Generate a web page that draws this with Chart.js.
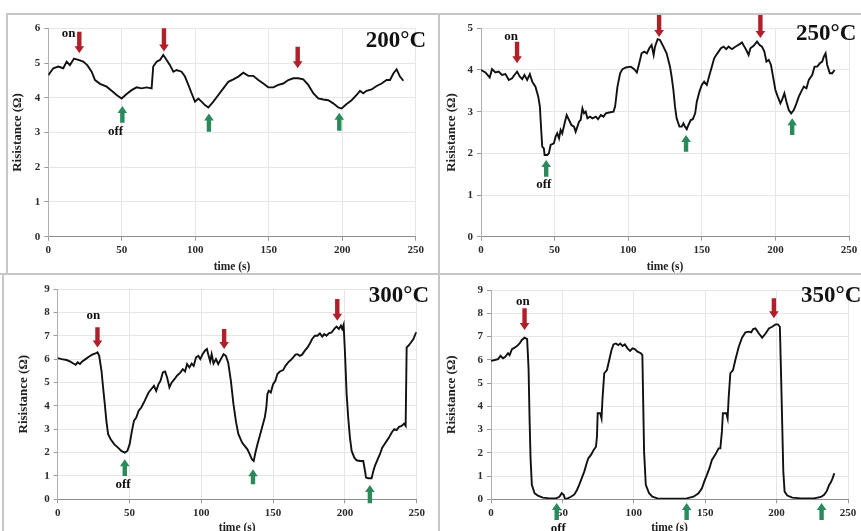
<!DOCTYPE html>
<html>
<head>
<meta charset="utf-8">
<title>Resistance vs time</title>
<script src="https://cdn.jsdelivr.net/npm/chart.js@4.4.0/dist/chart.umd.min.js"></script>
<style>
    html, body { margin: 0; padding: 0; background: #fff; }
    body { position: relative; width: 861px; height: 531px; overflow: hidden; }
    canvas { position: absolute; }
    .rule { position: absolute; background: #c6c6c6; }
</style>
</head>
<body>
<div class="rule" style="left:6px; top:13px; width:855px; height:2px"></div>
<div class="rule" style="left:6px; top:13px; width:2px; height:262px"></div>
<div class="rule" style="left:438px; top:13px; width:2px; height:518px"></div>
<div class="rule" style="left:0; top:273px; width:861px; height:2px"></div>
<div class="rule" style="left:2px; top:273px; width:2px; height:258px"></div>
<canvas id="c200"></canvas>
<canvas id="c250"></canvas>
<canvas id="c300"></canvas>
<canvas id="c350"></canvas>
<script>
// ---- data: [time (s), resistance] ----
const data200 = [[0,4.65],[3.4,4.85],[6.8,4.9],[10.2,4.85],[12.5,5.04],[14.7,4.94],[17.5,5.13],[20.4,5.09],[23.8,5.04],[26.5,4.94],[29.5,4.75],[31.8,4.51],[35.2,4.40],[39.7,4.32],[43.1,4.20],[46.5,4.08],[49.9,3.98],[53.3,4.11],[56.7,4.22],[60.1,4.30],[63.5,4.27],[66.9,4.30],[70.3,4.27],[71.4,4.9],[73.7,5.04],[76.0,5.09],[78.2,5.23],[80.5,5.09],[82.8,4.94],[85.1,4.75],[87.3,4.80],[90.7,4.75],[93.0,4.61],[95.3,4.37],[97.5,4.13],[99.8,3.89],[102.1,3.98],[104.3,3.89],[106.6,3.79],[108.9,3.72],[112.3,3.89],[115.7,4.08],[119.1,4.27],[122.5,4.46],[125.9,4.53],[129.3,4.61],[132.7,4.72],[136.1,4.63],[139.5,4.63],[142.9,4.51],[146.3,4.41],[149.7,4.30],[153.1,4.30],[156.5,4.37],[159.9,4.41],[163.3,4.51],[166.7,4.56],[170.1,4.56],[173.5,4.53],[176.9,4.37],[180.3,4.13],[183.7,3.98],[187.1,3.95],[190.5,3.93],[193.9,3.84],[197.3,3.72],[199.6,3.69],[203.0,3.82],[206.4,3.93],[209.8,4.08],[212.1,4.20],[214.3,4.13],[216.6,4.20],[220.0,4.24],[223.4,4.34],[226.8,4.41],[230.2,4.51],[232.5,4.51],[234.8,4.70],[237.0,4.82],[239.3,4.61],[241.6,4.49]];

const data250 = [[0,4.0],[3,3.94],[5.9,3.82],[7.5,4.02],[9.8,3.94],[12,3.96],[14.3,3.88],[16.6,3.90],[18.9,3.76],[21.1,3.80],[22.7,3.88],[24.5,3.96],[26.4,3.84],[28,3.78],[29.5,3.88],[31.4,3.76],[33.2,3.90],[34.8,3.72],[37,3.60],[38.9,3.36],[40,3.12],[40.9,2.56],[41.6,2.16],[42.7,2.12],[43.2,1.96],[45,1.96],[46.1,2.0],[47.3,2.2],[49.5,2.24],[50.7,2.4],[51.8,2.48],[53,2.36],[54.1,2.56],[55.2,2.48],[56.8,2.72],[58.2,2.92],[59.8,2.8],[61.4,2.68],[63.2,2.64],[64.3,2.52],[65.5,2.64],[66.6,2.76],[67.7,2.8],[68.9,3.08],[70,2.96],[71.1,3.0],[72.3,2.84],[74.1,2.88],[75.7,2.84],[78,2.88],[79.5,2.82],[81.4,2.92],[83.2,2.88],[84.8,2.96],[87,2.98],[90,3.0],[91.1,3.12],[92.7,3.6],[94.5,3.92],[96.1,4.02],[98.4,4.06],[101.8,4.08],[104.1,4.02],[105.9,3.94],[107.5,4.16],[109.1,4.4],[110.9,4.44],[112.7,4.4],[114.3,4.52],[115.9,4.6],[117.3,4.36],[118.2,4.56],[120,4.74],[121.6,4.72],[123.9,4.56],[126.1,4.4],[128.4,4.08],[129.5,3.84],[130.7,3.52],[131.8,3.12],[132.9,2.84],[134.8,2.64],[136.4,2.64],[137.5,2.72],[138.6,2.64],[139.8,2.58],[140.9,2.68],[142.5,2.8],[143.9,2.82],[145.5,2.96],[146.6,3.24],[148.4,3.48],[150,3.64],[151.6,3.72],[153.4,3.64],[155.2,3.88],[156.8,4.08],[158.4,4.28],[159.8,4.36],[161.4,4.44],[163,4.52],[164.8,4.56],[166.6,4.5],[168.2,4.56],[170.5,4.5],[172,4.54],[173.9,4.58],[175.7,4.62],[177.3,4.66],[178.9,4.56],[180.2,4.48],[181.8,4.36],[183,4.52],[185.2,4.58],[187.5,4.68],[189.3,4.6],[190.9,4.56],[192.5,4.44],[193.9,4.2],[195.5,4.24],[197,4.12],[198.4,3.84],[200,3.52],[201.6,3.36],[203.4,3.2],[204.5,3.28],[206.1,3.44],[207.5,3.24],[209.1,3.04],[210.7,2.96],[212.5,3.04],[214.3,3.2],[215.9,3.36],[217.5,3.48],[219.3,3.6],[221.1,3.56],[222.7,3.76],[225,3.88],[226.6,4.08],[228.4,4.08],[230.2,4.16],[231.8,4.2],[232.9,4.32],[234.1,4.4],[235.2,4.12],[237,3.92],[238.6,3.92],[240.2,4.0]];

const data300 = [[0,6.04],[2.8,6.0],[6.2,5.96],[8.5,5.9],[10.9,5.81],[12.5,5.76],[13.9,5.86],[15.5,5.79],[17.1,5.9],[19.4,6.0],[21.7,6.1],[24,6.19],[26.3,6.24],[27.7,6.29],[28.9,6.14],[30.5,5.5],[31.6,4.79],[32.8,4.07],[33.9,3.36],[35.1,2.79],[36.9,2.57],[39.3,2.36],[42,2.21],[44.3,2.07],[46.7,2.0],[48.5,2.07],[50.1,2.36],[51.7,2.93],[53.1,3.36],[54.7,3.5],[56.4,3.79],[58.2,3.93],[60,4.14],[61.7,4.36],[63.3,4.57],[65.1,4.71],[67,4.86],[68.6,4.64],[70.2,4.93],[71.6,5.07],[73.2,5.43],[74.8,5.47],[76.2,5.21],[77.8,4.79],[79.4,5.0],[81.3,5.14],[83.1,5.29],[85.5,5.43],[87.1,5.57],[88.7,5.47],[90.1,5.79],[91.7,5.64],[93.3,5.81],[94.7,5.71],[96.3,6.07],[97.9,6.14],[99.3,6.0],[100.9,6.21],[102.5,6.36],[103.9,6.43],[104.8,6.21],[106.2,5.9],[107.2,6.21],[108.5,5.81],[110.2,6.0],[111.8,5.79],[113.6,6.0],[115.5,6.21],[117.1,6.14],[118.7,5.86],[120.6,5.07],[122.4,4.07],[124.2,3.3],[125.8,2.8],[128.4,2.43],[130.2,2.29],[132.1,2.14],[133.7,1.93],[135.3,1.71],[136.5,1.64],[137.7,2.0],[139.1,2.36],[140.7,2.71],[142.3,3.07],[144.2,3.5],[145.3,3.93],[146,4.5],[147,4.64],[148.4,4.57],[150,4.93],[151.6,5.07],[153,5.36],[154.7,5.47],[157,5.53],[158.6,5.71],[160.5,5.86],[162.3,5.96],[164,6.07],[165.6,6.19],[167,6.21],[168.6,6.14],[170.2,6.19],[172.1,6.36],[174,6.5],[175.6,6.67],[177.2,6.86],[179.1,7.0],[180.9,7.0],[182.6,7.1],[184.2,6.96],[185.6,7.07],[187.2,7.0],[188.8,7.1],[190.7,7.14],[192.6,7.29],[194.2,7.39],[195.8,7.29],[197.2,7.43],[198.1,7.29],[199.1,7.47],[200,6.36],[201.2,4.5],[202.3,3.5],[203.5,2.64],[204.7,2.07],[206.5,1.79],[208.1,1.67],[210.5,1.64],[212.8,1.64],[214,1.21],[214.7,0.93],[216.3,0.9],[218.6,0.9],[219.8,1.21],[220.9,1.43],[222.8,1.71],[224.4,1.93],[226,2.21],[227.9,2.39],[229.1,2.5],[230.7,2.64],[232.6,2.86],[234.4,3.0],[236,2.96],[237.7,3.1],[239.5,3.14],[241.2,3.24],[242.3,3.14],[243,6.5],[244.2,6.57],[246,6.71],[247.7,6.86],[249.3,7.1],[250,7.15]];

const data350 = [[0,5.95],[2.6,5.99],[4.9,6.03],[6.7,6.17],[8.4,6.06],[10,6.13],[11.9,6.28],[13,6.2],[14.7,6.46],[16.5,6.52],[18.4,6.6],[20,6.7],[21.6,6.85],[23.5,6.95],[25.3,6.89],[26.3,5.63],[27,3.48],[27.7,1.76],[28.6,0.62],[30.5,0.26],[32.8,0.16],[36.3,0.07],[40.9,0.04],[45.6,0.04],[47.9,0.11],[49.5,0.26],[50.9,0.19],[51.9,0.01],[53.7,0.04],[56,0.11],[58.4,0.21],[60.2,0.4],[61.9,0.64],[63.5,0.9],[65.3,1.19],[67,1.55],[68.1,1.76],[70,1.91],[71.9,2.12],[73.5,2.26],[74.2,2.69],[74.7,3.7],[76.5,3.7],[77.4,3.48],[78.1,4.34],[79.3,5.42],[81.2,5.56],[82.8,5.99],[84.4,6.42],[85.8,6.66],[87.4,6.7],[89.1,6.63],[90.5,6.7],[92.1,6.59],[93.7,6.66],[95.6,6.49],[97.4,6.38],[99.1,6.49],[100.7,6.46],[102.6,6.35],[104.9,6.28],[106,6.2],[107.2,2.05],[108.4,0.62],[110.7,0.26],[113,0.11],[116.5,0.04],[125,0.03],[137.1,0.04],[141.8,0.11],[145.3,0.26],[147.7,0.47],[149.3,0.76],[151.2,1.05],[153.1,1.36],[154.7,1.69],[157,1.91],[159.4,2.19],[160.6,2.19],[161.7,2.91],[162.4,3.7],[164.8,3.7],[165.7,3.48],[166.4,4.34],[167.6,5.42],[169.5,5.56],[171.1,5.99],[173.5,6.56],[175.8,6.95],[178.2,7.18],[180.5,7.21],[182.2,7.18],[183.6,7.32],[185.2,7.35],[187.6,7.13],[189.9,6.95],[192.3,7.13],[194.6,7.35],[196.9,7.42],[199.3,7.52],[200.9,7.52],[202.3,7.42],[203.3,4.91],[204.7,1.19],[205.6,0.33],[207.5,0.16],[211,0.07],[216.9,0.04],[226.3,0.04],[231,0.1],[233.3,0.19],[235.2,0.36],[236.8,0.62],[238,0.73],[239.2,0.9],[240.4,1.12]];

// gas on / off arrows: [time, tail value, tip value]
const on200 = [[21.1,5.9,5.28],[78.7,6.0,5.33],[169.7,5.47,4.85]];
const off200 = [[50.4,3.28,3.76],[109.3,3.02,3.55],[198,3.05,3.57]];
const on250 = [[24.5,4.68,4.16],[121,5.37,4.79],[189.8,5.37,4.77]];
const off250 = [[44.3,1.44,1.84],[139.3,2.04,2.44],[211.4,2.44,2.84]];
const on300 = [[27.7,7.36,6.5],[115.9,7.29,6.43],[194.7,8.57,7.64]];
const off300 = [[46.7,1.0,1.71],[136,0.64,1.29],[217.4,-0.17,0.61]];
const on350 = [[23.5,8.21,7.28],[198.1,8.64,7.78]];
const off350 = [[46,-0.89,-0.16],[137,-0.89,-0.16],[231.5,-0.89,-0.16]];

// "on" / "off" words: [text, time, value]
const notes200 = [['on',13.8,5.85],['off',45.8,3.02]];
const notes250 = [['on',20.5,4.8],['off',42.7,1.24]];
const notes300 = [['on',24.9,7.84],['off',45.5,0.64]];
const notes350 = [['on',22.3,8.48],['off',47.1,-1.25]];

const yMax200 = 6, yMax250 = 5, yMax300 = 9, yMax350 = 9;
const timeMax = 250, timeStep = 50;
const xTitle = 'time (s)';
const yTitle = 'Risistance (\u03A9)';

// ---- layout (page pixels) ----
const panels = [
    { id: 'c200', temp: '200\u00B0C', data: data200, yMax: yMax200, on: on200, off: off200, notes: notes200,
      box: {left: 8, top: 15, w: 430, h: 258}, plot: {left: 48.3, right: 415.7, top: 28.3, bottom: 236.7},
      yTitleX: 18, xTitleY: 267, tempAt: [-50, 18.4] },
    { id: 'c250', temp: '250\u00B0C', data: data250, yMax: yMax250, on: on250, off: off250, notes: notes250,
      box: {left: 440, top: 15, w: 421, h: 258}, plot: {left: 481, right: 849, top: 28.3, bottom: 236.7},
      yTitleX: 451.7, xTitleY: 267, tempAt: [-53, 11.7] },
    { id: 'c300', temp: '300\u00B0C', data: data300, yMax: yMax300, on: on300, off: off300, notes: notes300,
      box: {left: 4, top: 275, w: 434, h: 261}, plot: {left: 57.7, right: 416.7, top: 289, bottom: 499.3},
      yTitleX: 23.3, xTitleY: 528, tempAt: [-48, 12.7] },
    { id: 'c350', temp: '350\u00B0C', data: data350, yMax: yMax350, on: on350, off: off350, notes: notes350,
      box: {left: 440, top: 275, w: 421, h: 261}, plot: {left: 491, right: 848, top: 290, bottom: 499.3},
      yTitleX: 451.7, xTitleY: 528, tempAt: [-47, 11.7] }
];

const serif = '"Liberation Serif", "Times New Roman", serif';
const xTitleSize = 11.5, yTitleSize = 13;

function drawArrow(ctx, x, yTail, yTip, color) {
    const dir = yTip > yTail ? 1 : -1;
    const head = 7;
    const neck = yTip - dir * head;
    ctx.save();
    ctx.fillStyle = color;
    ctx.beginPath();
    ctx.moveTo(x - 2.2, yTail);
    ctx.lineTo(x + 2.2, yTail);
    ctx.lineTo(x + 2.2, neck);
    ctx.lineTo(x + 4.8, neck);
    ctx.lineTo(x, yTip);
    ctx.lineTo(x - 4.8, neck);
    ctx.lineTo(x - 2.2, neck);
    ctx.closePath();
    ctx.fill();
    ctx.restore();
}

function marksPlugin(p) {
    return {
        id: 'marks',
        afterDatasetsDraw(chart) {
            const ctx = chart.ctx;
            const xs = chart.scales.x, ys = chart.scales.y;
            p.on.forEach(a => drawArrow(ctx, xs.getPixelForValue(a[0]), ys.getPixelForValue(a[1]), ys.getPixelForValue(a[2]), '#b01f2a'));
            p.off.forEach(a => drawArrow(ctx, xs.getPixelForValue(a[0]), ys.getPixelForValue(a[1]), ys.getPixelForValue(a[2]), '#2a8a5c'));
            ctx.save();
            ctx.fillStyle = '#111';
            ctx.font = 'bold 13px ' + serif;
            ctx.textAlign = 'center';
            ctx.textBaseline = 'middle';
            p.notes.forEach(n => ctx.fillText(n[0], xs.getPixelForValue(n[1]), ys.getPixelForValue(n[2])));
            ctx.font = 'bold 23px ' + serif;
            ctx.textAlign = 'left';
            ctx.textBaseline = 'alphabetic';
            ctx.fillText(p.temp, chart.chartArea.right + p.tempAt[0], chart.chartArea.top + p.tempAt[1]);
            ctx.restore();
        }
    };
}

panels.forEach(function(p) {
    const canvas = document.getElementById(p.id);
    canvas.width = p.box.w;
    canvas.height = p.box.h;
    canvas.style.left = p.box.left + 'px';
    canvas.style.top = p.box.top + 'px';
    canvas.style.width = p.box.w + 'px';
    canvas.style.height = p.box.h + 'px';

    const yTitleLeft = p.yTitleX - yTitleSize * 1.2 / 2;
    const xTitleBottom = p.xTitleY + xTitleSize * 1.2 / 2;
    const yWidth = p.plot.left - yTitleLeft;
    const xHeight = xTitleBottom - p.plot.bottom;

    const tickFont = { family: serif, size: 11, weight: 'bold' };

    new Chart(canvas.getContext('2d'), {
        type: 'line',
        data: {
            datasets: [{
                data: p.data.map(d => ({ x: d[0], y: d[1] })),
                borderColor: '#111',
                borderWidth: 1.9,
                pointRadius: 0,
                tension: 0,
                fill: false
            }]
        },
        options: {
            responsive: false,
            animation: false,
            devicePixelRatio: 1,
            layout: {
                padding: {
                    left: yTitleLeft - p.box.left,
                    top: p.plot.top - p.box.top,
                    right: p.box.left + p.box.w - p.plot.right,
                    bottom: p.box.top + p.box.h - xTitleBottom
                }
            },
            plugins: { legend: { display: false }, tooltip: { enabled: false } },
            scales: {
                x: {
                    type: 'linear',
                    min: 0,
                    max: timeMax,
                    ticks: { stepSize: timeStep, font: tickFont, color: '#2a2a2a', padding: 3, maxRotation: 0 },
                    grid: { color: '#e6e6e6', tickColor: '#9a9a9a', tickLength: 4 },
                    border: { color: '#8c8c8c', width: 1 },
                    title: { display: true, text: xTitle, font: { family: serif, size: xTitleSize, weight: 'bold' }, color: '#222', padding: 0 },
                    afterFit: s => { s.height = xHeight; }
                },
                y: {
                    min: 0,
                    max: p.yMax,
                    ticks: { stepSize: 1, font: tickFont, color: '#2a2a2a', padding: 4 },
                    grid: { color: '#e6e6e6', tickColor: '#9a9a9a', tickLength: 4 },
                    border: { color: '#b0b0b0', width: 1 },
                    title: { display: true, text: yTitle, font: { family: serif, size: yTitleSize, weight: 'bold' }, color: '#222', padding: 0 },
                    afterFit: s => { s.width = yWidth; }
                }
            }
        },
        plugins: [marksPlugin(p)]
    });
});
</script>
</body>
</html>
